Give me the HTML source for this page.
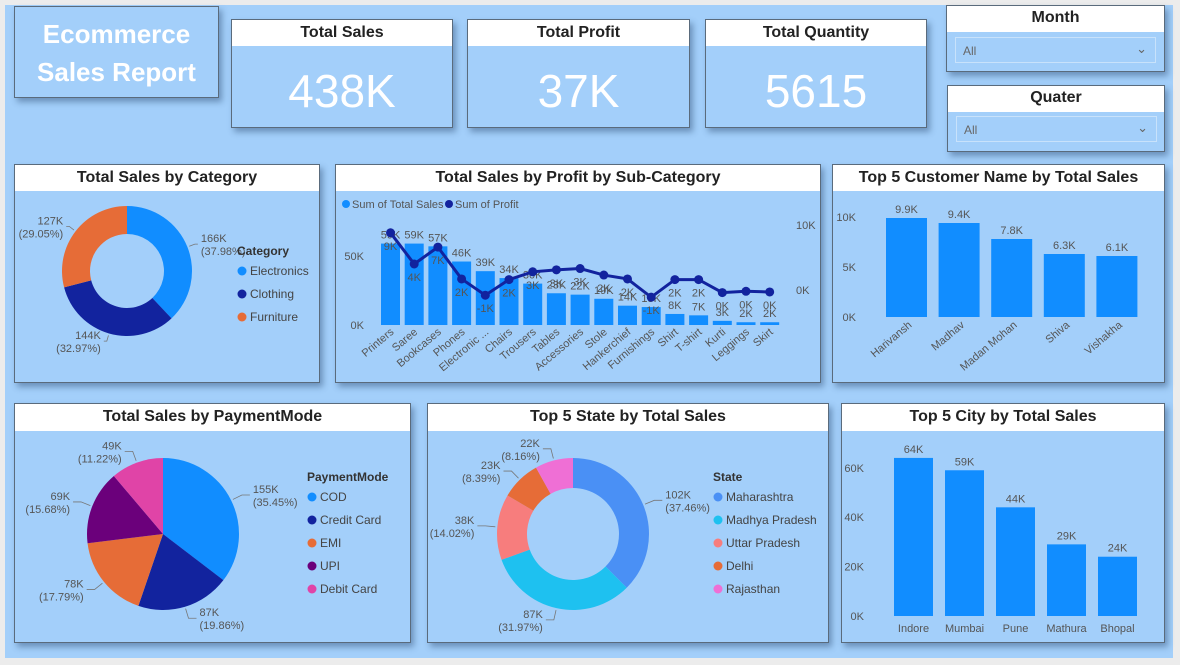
<!DOCTYPE html>
<html><head><meta charset="utf-8">
<style>
*{box-sizing:border-box;margin:0;padding:0}
body{width:1180px;height:665px;background:#ececec;font-family:"Liberation Sans",sans-serif;position:relative;overflow:hidden}
#canvas{position:absolute;left:5px;top:5px;width:1168px;height:653px;background:#a3cffa}
.panel{position:absolute;border:1px solid #5a6b7c;box-shadow:3px 4px 6px rgba(40,70,110,.45);background:#a3cffa}
.hdr{position:absolute;left:0;right:0;top:0;background:#fff;text-align:center;font-weight:bold;color:#222;font-size:16px}
.kpi{position:absolute;left:0;right:0;text-align:center;color:#fff;font-size:46px}
.dd{position:absolute;border:1px solid #c8e2fb;color:#666;font-size:12px;padding:6px 7px}
svg{position:absolute;left:0;top:0}
</style></head><body>
<div id="canvas"></div>
<div class="panel" style="left:14px;top:6px;width:205px;height:92px">
 <div style="color:#fff;font-weight:bold;font-size:26px;text-align:center;line-height:38px;margin-top:8px">Ecommerce<br>Sales Report</div></div>
<div class="panel" style="left:231px;top:19px;width:222px;height:109px"><div class="hdr" style="height:26px;line-height:26px">Total Sales</div><div class="kpi" style="top:44px">438K</div></div>
<div class="panel" style="left:467px;top:19px;width:223px;height:109px"><div class="hdr" style="height:26px;line-height:26px">Total Profit</div><div class="kpi" style="top:44px">37K</div></div>
<div class="panel" style="left:705px;top:19px;width:222px;height:109px"><div class="hdr" style="height:26px;line-height:26px">Total Quantity</div><div class="kpi" style="top:44px">5615</div></div>
<div class="panel" style="left:946px;top:5px;width:219px;height:67px"><div class="hdr" style="height:26px;line-height:24px">Month</div><div class="dd" style="left:8px;top:31px;width:201px;height:26px">All<span style="position:absolute;right:8px;top:3px;font-size:13px">&#8964;</span></div></div>
<div class="panel" style="left:947px;top:85px;width:218px;height:67px"><div class="hdr" style="height:26px;line-height:24px">Quater</div><div class="dd" style="left:8px;top:30px;width:201px;height:26px">All<span style="position:absolute;right:8px;top:3px;font-size:13px">&#8964;</span></div></div>
<div class="panel" style="left:14px;top:164px;width:306px;height:219px"><div class="hdr" style="height:26px;line-height:25px">Total Sales by Category</div></div>
<div class="panel" style="left:335px;top:164px;width:486px;height:219px"><div class="hdr" style="height:26px;line-height:25px">Total Sales by Profit by Sub-Category</div></div>
<div class="panel" style="left:832px;top:164px;width:333px;height:219px"><div class="hdr" style="height:26px;line-height:25px">Top 5 Customer Name by Total Sales</div></div>
<div class="panel" style="left:14px;top:403px;width:397px;height:240px"><div class="hdr" style="height:27px;line-height:26px">Total Sales by PaymentMode</div></div>
<div class="panel" style="left:427px;top:403px;width:402px;height:240px"><div class="hdr" style="height:27px;line-height:26px">Top 5 State by Total Sales</div></div>
<div class="panel" style="left:841px;top:403px;width:324px;height:240px"><div class="hdr" style="height:27px;line-height:26px">Top 5 City by Total Sales</div></div>
<svg id="ov" width="1180" height="665"></svg>
<script>
const catNames=["Electronics","Clothing","Furniture"];
const catValues=[166,144,127];
const catPcts=[37.98,32.97,29.05];
const subCats=["Printers","Saree","Bookcases","Phones","Electronic ...","Chairs","Trousers","Tables","Accessories","Stole","Hankerchief","Furnishings","Shirt","T-shirt","Kurti","Leggings","Skirt"];
const subSales=[59,59,57,46,39,34,30,23,22,19,14,13,8,7,3,2,2];
const subProfit=[8.8,4,6.6,1.7,-0.8,1.6,2.8,3.1,3.3,2.3,1.7,-1.1,1.6,1.6,-0.4,-0.2,-0.3];
const salesTicks=[0,50];
const profitTicks=[0,10];
const custNames=["Harivansh","Madhav","Madan Mohan","Shiva","Vishakha"];
const custSales=[9.9,9.4,7.8,6.3,6.1];
const custTicks=[0,5,10];
const payNames=["COD","Credit Card","EMI","UPI","Debit Card"];
const payValues=[155,87,78,69,49];
const payPcts=[35.45,19.86,17.79,15.68,11.22];
const stateNames=["Maharashtra","Madhya Pradesh","Uttar Pradesh","Delhi","Rajasthan"];
const stateValues=[102,87,38,23,22];
const statePcts=[37.46,31.97,14.02,8.39,8.16];
const cityNames=["Indore","Mumbai","Pune","Mathura","Bhopal"];
const citySales=[64,59,44,29,24];
const cityTicks=[0,20,40,60];

const NS="http://www.w3.org/2000/svg",ov=document.getElementById('ov');
function el(t,a,txt){const e=document.createElementNS(NS,t);for(const k in a)e.setAttribute(k,a[k]);if(txt!=null)e.textContent=txt;ov.appendChild(e);return e;}
function tx(x,y,s,o){o=o||{};return el('text',Object.assign({x:x,y:y,'font-size':o.fs||11,fill:o.fill||'#555','text-anchor':o.a||'middle','font-family':'Liberation Sans, sans-serif'},o.extra||{}),s);}
function fmtK(v){const r=Math.round(v);return (r===0?0:r)+'K';}
function arcPath(cx,cy,r0,r1,a0,a1){const p=(r,a)=>[cx+r*Math.sin(a),cy-r*Math.cos(a)];const l=(a1-a0)>Math.PI?1:0;const A=p(r1,a0),B=p(r1,a1);
 if(r0===0)return `M${cx},${cy}L${A}A${r1},${r1} 0 ${l} 1 ${B}Z`;const C=p(r0,a1),D=p(r0,a0);return `M${A}A${r1},${r1} 0 ${l} 1 ${B}L${C}A${r0},${r0} 0 ${l} 0 ${D}Z`;}
function pie(name,cx,cy,r0,r1,vals,pcts,cols,ext,stub){ext=ext||12;stub=stub||8;const tot=vals.reduce((a,b)=>a+b,0);let a=0;
 vals.forEach((v,i)=>{const a1=a+v/tot*2*Math.PI;const p=el('path',{d:arcPath(cx,cy,r0,r1,a,a1),fill:cols[i]});
  
  
  const m=(a+a1)/2,sx=Math.sin(m),cy2=-Math.cos(m);
  const x1=cx+(r1+2)*sx,y1=cy+(r1+2)*cy2,x2=cx+(r1+ext)*sx,y2=cy+(r1+ext)*cy2,x3=x2+(sx>=0?stub:-stub);
  el('polyline',{points:`${x1},${y1} ${x2},${y2} ${x3},${y2}`,fill:'none',stroke:'#777','stroke-width':0.8});
  const an=sx>=0?'start':'end',lx=x3+(sx>=0?3:-3);
  const t1=tx(lx,y2-2,v+'K',{a:an});
  const t2=tx(lx,y2+11,'('+pcts[i].toFixed(2)+'%)',{a:an});
  a=a1;});}
function legend(name,x,y,title,names,cols,gap){const t=tx(x,y,title,{a:'start',fs:12,fill:'#333',extra:{'font-weight':'bold'}});
 names.forEach((n,i)=>{const yy=y+20+i*gap;const c=el('circle',{cx:x+5,cy:yy-4,r:4.5,fill:cols[i]});
  const l=tx(x+13,yy,n,{a:'start',fs:12,fill:'#444'});});}

// Category donut
const catCols=['#118dff','#12239e','#e66c37'];
pie('category',127,271,37,65,catValues,catPcts,catCols,8,3);
legend('category',237,255,'Category',catNames,catCols,23);

// Sub-category combo
(function(){const base=325,sy=v=>base-v*1.38,py=v=>290-v*6.5,bx=i=>381+i*23.7,bw=19;
 salesTicks.forEach(t=>{const l=tx(364,sy(t)+4,t+'K',{a:'end'});});
 profitTicks.forEach(t=>{const l=tx(796,py(t)+4,t+'K',{a:'start'});});
 el('circle',{cx:346,cy:204,r:4,fill:'#118dff'});tx(352,208,'Sum of Total Sales',{a:'start',fs:11});
 el('circle',{cx:449,cy:204,r:4,fill:'#12239e'});tx(455,208,'Sum of Profit',{a:'start',fs:11});
 subSales.forEach((v,i)=>{const b=el('rect',{x:bx(i),y:sy(v),width:bw,height:base-sy(v),fill:'#118dff'});
  const l=tx(bx(i)+bw/2,sy(v)-5,fmtK(v));
  const x=tx(bx(i)+bw/2+4,333,subCats[i],{a:'end',extra:{transform:`rotate(-40 ${bx(i)+bw/2+4} 333)`}});});
 const pts=subProfit.map((v,i)=>[bx(i)+bw/2,py(v)]);
 const ln=el('polyline',{points:pts.map(p=>p.join(',')).join(' '),fill:'none',stroke:'#12239e','stroke-width':3});
 pts.forEach((p,i)=>{const c=el('circle',{cx:p[0],cy:p[1],r:4.5,fill:'#12239e'});
  const below=p[1]<sy(subSales[i])+25;const l=tx(p[0],below?p[1]+17:p[1]-9,fmtK(subProfit[i]));});
})();

// Customer bars
(function(){const base=317,sy=v=>base-v*10,bx=i=>886+i*52.6,bw=41;
 custTicks.forEach(t=>{const l=tx(856,sy(t)+4,t+'K',{a:'end'});});
 custSales.forEach((v,i)=>{const b=el('rect',{x:bx(i),y:sy(v),width:bw,height:base-sy(v),fill:'#118dff'});
  const l=tx(bx(i)+bw/2,sy(v)-5,v.toFixed(1)+'K');
  const cx=bx(i)+bw/2+6;const x=tx(cx,326,custNames[i],{a:'end',extra:{transform:`rotate(-40 ${cx} 326)`}});});
})();

// Payment pie
const payCols=['#118dff','#12239e','#e66c37','#6b007b','#e044a7'];
pie('payment',163,534,0,76,payValues,payPcts,payCols);
legend('payment',307,481,'PaymentMode',payNames,payCols,23);

// State donut
const stateCols=['#4a90f5','#1ec1f0','#f77d7d','#e66c37','#ef6fd5'];
pie('state',573,534,46,76,stateValues,statePcts,stateCols);
legend('state',713,481,'State',stateNames,stateCols,23);

// City bars
(function(){const base=616,sy=v=>base-v*2.47,bx=i=>894+i*51,bw=39;
 cityTicks.forEach(t=>{const l=tx(864,sy(t)+4,t+'K',{a:'end'});});
 citySales.forEach((v,i)=>{const b=el('rect',{x:bx(i),y:sy(v),width:bw,height:base-sy(v),fill:'#118dff'});
  const l=tx(bx(i)+bw/2,sy(v)-5,fmtK(v));
  const x=tx(bx(i)+bw/2,632,cityNames[i]);});
})();
</script>
</body></html>
